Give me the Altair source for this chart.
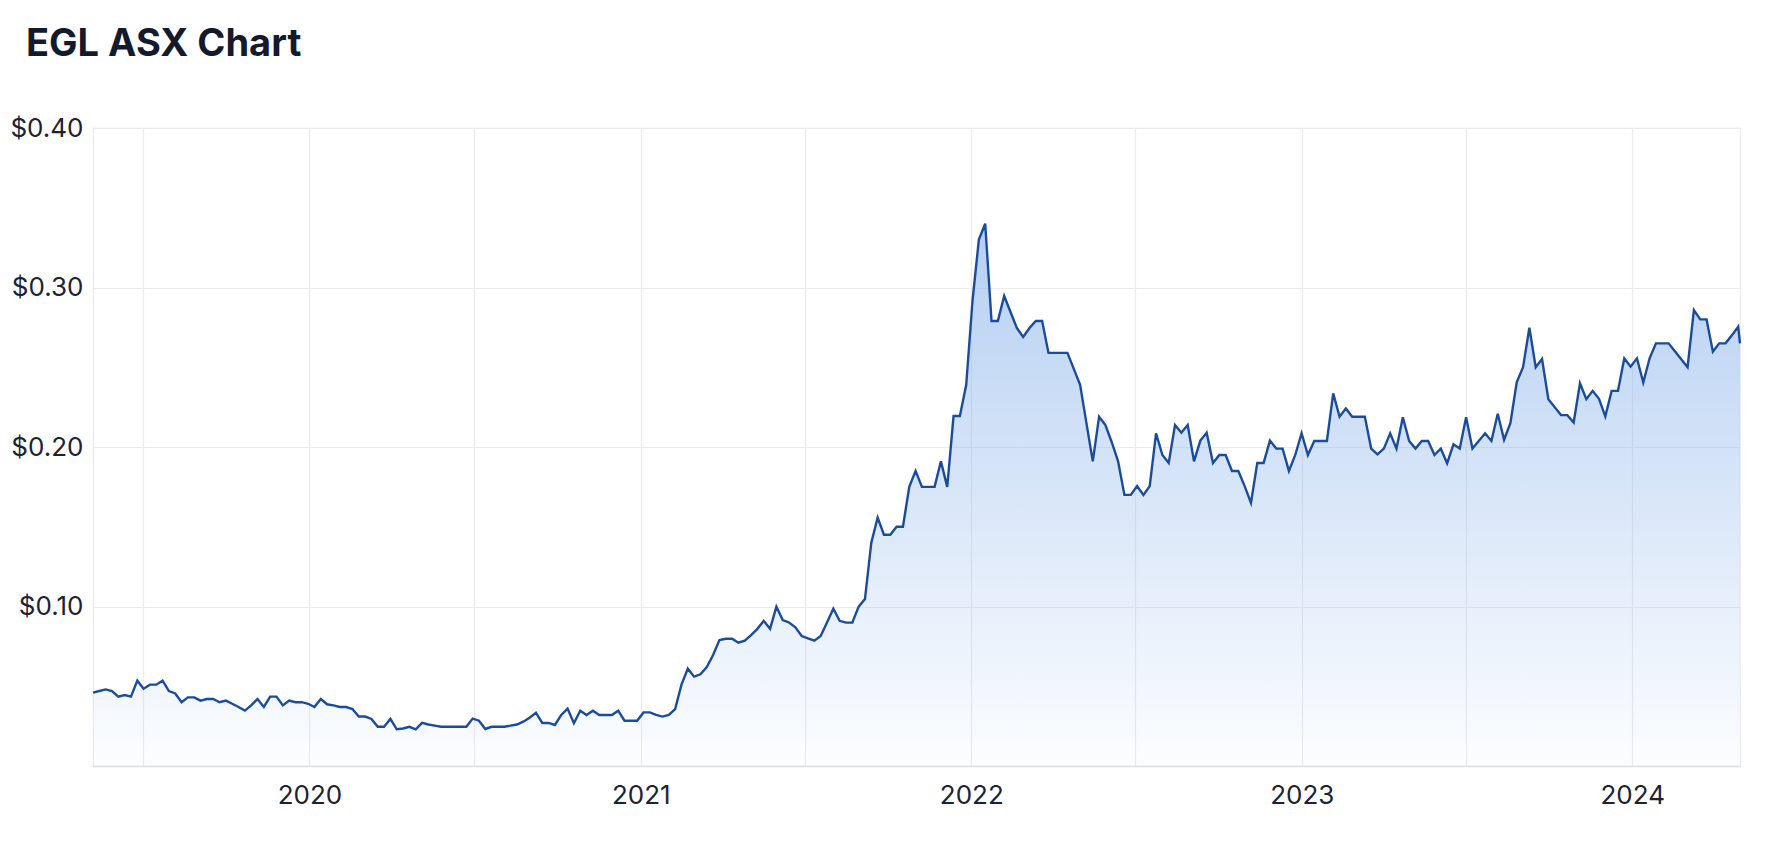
import altair as alt
import pandas as pd

TITLE = "EGL ASX Chart"
START_DATE = "2019-05-07"
LAST_WEEK_DATE = "2024-04-27"
FINAL_DATE = "2024-04-29"

# weekly closing prices (AUD)
prices_2019 = [0.046, 0.047, 0.048, 0.047, 0.0435, 0.0445, 0.0435, 0.0535, 0.0485, 0.051,
               0.051, 0.0535, 0.047, 0.0455, 0.040, 0.043, 0.043, 0.041, 0.042, 0.042,
               0.040, 0.041, 0.039, 0.037, 0.0347, 0.038, 0.042, 0.037, 0.0435, 0.0435,
               0.038, 0.041, 0.040, 0.040, 0.039, 0.037, 0.042, 0.0387, 0.038, 0.037,
               0.037, 0.0357, 0.031, 0.031, 0.0295, 0.0246, 0.0246, 0.0295, 0.023, 0.0235,
               0.0246, 0.023]
prices_2020 = [0.027, 0.026, 0.0253, 0.0246, 0.0246, 0.0246, 0.0246, 0.0246, 0.0297, 0.0284,
               0.0232, 0.0246, 0.0246, 0.0246, 0.0253, 0.026, 0.0278, 0.0303, 0.0334, 0.027,
               0.027, 0.0257, 0.032, 0.036, 0.0268, 0.0347, 0.032, 0.0347, 0.032, 0.032,
               0.032, 0.0347, 0.0284, 0.0284, 0.0284, 0.0336, 0.0336, 0.032, 0.031, 0.032,
               0.0357, 0.051, 0.061, 0.056, 0.0575, 0.062, 0.0696, 0.079]
prices_2021 = [0.0798, 0.0798, 0.0773, 0.0786, 0.0821, 0.086, 0.091, 0.086, 0.0999, 0.0915,
               0.090, 0.087, 0.0815, 0.080, 0.0786, 0.0815, 0.0899, 0.0986, 0.091, 0.0899,
               0.0899, 0.0999, 0.1047, 0.140, 0.1557, 0.145, 0.145, 0.150, 0.150, 0.175,
               0.185, 0.175, 0.175, 0.175, 0.191, 0.175, 0.2194, 0.2194]
prices_2022 = [0.239, 0.292, 0.330, 0.340, 0.279, 0.279, 0.2947, 0.2846, 0.2746, 0.269,
               0.2746, 0.279, 0.279, 0.259, 0.259, 0.259, 0.259, 0.249, 0.239, 0.215,
               0.191, 0.219, 0.2138, 0.203, 0.191, 0.170, 0.170, 0.1755, 0.170, 0.1755,
               0.2086, 0.195, 0.190, 0.2138, 0.209, 0.2138, 0.191, 0.204, 0.209, 0.190,
               0.195, 0.195, 0.185, 0.185, 0.1755, 0.165]
prices_2023 = [0.190, 0.190, 0.204, 0.199, 0.199, 0.185, 0.195, 0.2086, 0.195, 0.2038,
               0.2038, 0.2038, 0.2336, 0.219, 0.2242, 0.219, 0.219, 0.219, 0.199, 0.1954,
               0.199, 0.2086, 0.199, 0.2186, 0.2038, 0.199, 0.2038, 0.2038, 0.195, 0.199,
               0.1898, 0.2017, 0.199, 0.2186, 0.199, 0.2038, 0.2086, 0.2038]
prices_2024 = [0.2208, 0.2046, 0.215, 0.2406, 0.25, 0.2748, 0.25, 0.2552, 0.23, 0.225,
               0.220, 0.220, 0.2154, 0.240, 0.230, 0.2352, 0.2302, 0.2192, 0.2352, 0.2352,
               0.2556, 0.2504, 0.2556, 0.2404, 0.2556, 0.265, 0.265, 0.265, 0.260, 0.255,
               0.250, 0.2858, 0.280, 0.280, 0.2598, 0.265, 0.265, 0.270, 0.2754]
last_price = 0.265

weekly = prices_2019 + prices_2020 + prices_2021 + prices_2022 + prices_2023 + prices_2024
weekly_dates = list(pd.date_range(START_DATE, LAST_WEEK_DATE, periods=len(weekly)))
prices = weekly + [last_price]
dates = weekly_dates + [pd.Timestamp(FINAL_DATE)]

grid_months = [(2019, 7), (2020, 1), (2020, 7), (2021, 1), (2021, 7),
               (2022, 1), (2022, 7), (2023, 1), (2023, 7), (2024, 1)]
y_ticks = [0.1, 0.2, 0.3, 0.4]
y_domain = [0, 0.4]

df = pd.DataFrame({"date": dates, "price": prices})

FONT = "Inter"
LABEL_COLOR = "#1c2233"
GRID = "#ececec"

x_enc = alt.X(
    "date:T",
    scale=alt.Scale(nice=False),
    axis=alt.Axis(
        values=[alt.DateTime(year=y, month=m, date=1) for y, m in grid_months],
        labelExpr="month(datum.value) == 0 ? timeFormat(datum.value, '%Y') : ''",
        title=None, ticks=False, domain=True, domainColor="#dedede", domainWidth=1.5,
        grid=True, gridColor=GRID, gridWidth=1.2,
        labelFont=FONT, labelFontSize=26, labelColor=LABEL_COLOR, labelPadding=16,
        labelFlush=False, labelOverlap=False,
    ),
)
y_enc = alt.Y(
    "price:Q",
    scale=alt.Scale(domain=y_domain, nice=False, zero=True),
    axis=alt.Axis(
        values=y_ticks, format="$.2f", title=None, ticks=False, domain=False,
        grid=True, gridColor=GRID, gridWidth=1.2,
        labelFont=FONT, labelFontSize=26, labelColor=LABEL_COLOR, labelPadding=10,
    ),
)

base = alt.Chart(df).encode(x=x_enc, y=y_enc)

area = base.mark_area(
    color=alt.Gradient(
        gradient="linear",
        stops=[
            alt.GradientStop(color="rgba(118,166,232,0.54)", offset=0),
            alt.GradientStop(color="rgba(118,166,232,0.02)", offset=1),
        ],
        x1=1, x2=1, y1=0, y2=1,
    )
)
line = base.mark_line(color="#1b4c9b", strokeWidth=2.4)

chart = (area + line).properties(
    width=1647,
    height=638,
    autosize=alt.AutoSizeParams(type="none"),
    padding={"left": 85, "top": 120, "right": 18, "bottom": 70},
    title=alt.Title(
        TITLE, anchor="start", frame="group", orient="top", baseline="alphabetic",
        offset=21, dx=-67, fontSize=38, fontWeight="bold", font=FONT, color="#131a2c",
    ),
).configure_view(stroke="#ececec", strokeWidth=1.2)

chart.save("out.html", embed_options={"renderer": "svg", "actions": False})
